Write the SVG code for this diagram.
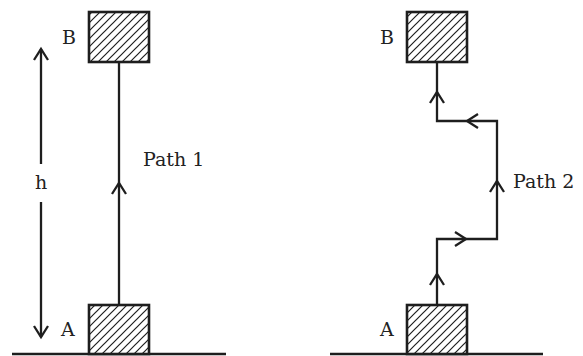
<svg xmlns="http://www.w3.org/2000/svg" width="583" height="356" viewBox="0 0 583 356">
<style>
.ln{fill:none;stroke:#1e1e1e;stroke-width:2.3;stroke-linecap:butt;stroke-linejoin:miter}
.box{fill:url(#hatch);stroke:#1e1e1e;stroke-width:2.6}
.ground{stroke:#1e1e1e;stroke-width:2.6}
text{font-family:"DejaVu Serif","Liberation Serif",serif;font-size:19px;fill:#222}
</style>
<defs>
<pattern id="hatch" patternUnits="userSpaceOnUse" width="8" height="8">
<rect width="8" height="8" fill="#fff"/>
<path d="M0,8 L8,0 M-1,1 L1,-1 M7,9 L9,7" stroke="#1e1e1e" stroke-width="1.2"/>
</pattern>
<path id="chev" d="M-7,11 L0,0 L7,11" fill="none" stroke="#1e1e1e" stroke-width="2.3"/>
</defs>
<g id="grounds">
<line class="ground" x1="12" y1="354" x2="226" y2="354"/>
<line class="ground" x1="330" y1="354" x2="543" y2="354"/>
</g>
<g id="connectors">
<line class="ln" x1="119" y1="62" x2="119" y2="305"/>
<use href="#chev" x="119" y="183"/>
<polyline class="ln" points="437,305 437,239 497,239 497,121 437,121 437,62"/>
<use href="#chev" transform="translate(437,274)"/>
<use href="#chev" transform="translate(466,239) rotate(90)"/>
<use href="#chev" transform="translate(497,181)"/>
<use href="#chev" transform="translate(467,121) rotate(-90)"/>
<use href="#chev" transform="translate(437,92)"/>
</g>
<g id="height">
<line class="ln" x1="41" y1="49" x2="41" y2="164"/>
<use href="#chev" transform="translate(41,49)"/>
<line class="ln" x1="41" y1="202" x2="41" y2="337"/>
<use href="#chev" transform="translate(41,337) rotate(180)"/>
<text x="41" y="189" text-anchor="middle">h</text>
</g>
<g id="B1">
<rect class="box" x="89" y="12" width="60" height="50"/>
<text x="62" y="44">B</text>
</g>
<g id="A1">
<rect class="box" x="89" y="305" width="60" height="49"/>
<text x="61" y="336">A</text>
</g>
<g id="B2">
<rect class="box" x="407" y="12" width="60" height="50"/>
<text x="380" y="44">B</text>
</g>
<g id="A2">
<rect class="box" x="407" y="305" width="60" height="49"/>
<text x="380" y="336">A</text>
</g>
<g id="labels">
<text x="143" y="166">Path 1</text>
<text x="513" y="188">Path 2</text>
</g>
</svg>
